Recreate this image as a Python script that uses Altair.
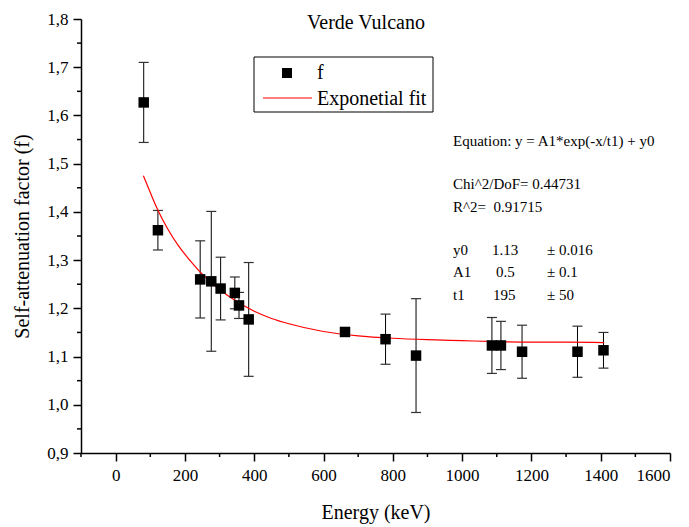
import altair as alt
import pandas as pd

# ---- data ----
energy = [81, 122, 244, 276, 303, 344, 356, 384, 662, 779, 867, 1086, 1112, 1173, 1333, 1408]
f_val = [1.627, 1.362, 1.260, 1.256, 1.241, 1.232, 1.206, 1.177, 1.151, 1.136, 1.102,
         1.123, 1.123, 1.110, 1.110, 1.113]
f_err = [0.083, 0.041, 0.080, 0.145, 0.065, 0.033, 0.027, 0.118, 0.005, 0.052, 0.118,
         0.058, 0.050, 0.055, 0.053, 0.037]

fit_x = [80, 100, 121, 150, 180, 215, 243, 275, 300, 350, 400, 450, 500, 600, 700, 800,
         900, 1000, 1100, 1200, 1300, 1410]
fit_y = [1.475, 1.440, 1.405, 1.365, 1.331, 1.299, 1.276, 1.254, 1.239, 1.214, 1.194,
         1.179, 1.168, 1.152, 1.143, 1.138, 1.135, 1.133, 1.131, 1.130, 1.130, 1.129]

x_major = [0, 200, 400, 600, 800, 1000, 1200, 1400, 1600]
x_minor = [-100, 100, 300, 500, 700, 900, 1100, 1300, 1500]
y_major = [0.9, 1.0, 1.1, 1.2, 1.3, 1.4, 1.5, 1.6, 1.7, 1.8]
y_minor = [0.95, 1.05, 1.15, 1.25, 1.35, 1.45, 1.55, 1.65, 1.75]

title_text = "Verde Vulcano"
x_title = "Energy (keV)"
y_title = "Self-attenuation factor (f)"
legend_labels = ["f", "Exponetial fit"]
eq_lines = ["Equation: y = A1*exp(-x/t1) + y0", "Chi^2/DoF= 0.44731", "R^2=\u00a0 0.91715"]
param_names = ["y0", "A1", "t1"]
param_vals = ["1.13", "0.5", "195"]
param_errs = ["\u00b1 0.016", "\u00b1 0.1", "\u00b1 50"]

FONT = "Liberation Serif, Times New Roman, serif"
W, H = 589, 434

pts = pd.DataFrame({"E": energy, "f": f_val, "err": f_err})
pts["lo"] = pts["f"] - pts["err"]
pts["hi"] = pts["f"] + pts["err"]
fit = pd.DataFrame({"E": fit_x, "f": fit_y})

xscale = alt.Scale(domain=[-100, 1600], nice=False, zero=False)
yscale = alt.Scale(domain=[0.9, 1.8], nice=False, zero=False)

xaxis = alt.Axis(values=x_major, title=x_title, grid=False, tickSize=8, tickWidth=1.5,
                 domainWidth=1.5, domainColor="black", tickColor="black", format="d",
                 labelFont=FONT, labelFontSize=17, labelColor="black", labelPadding=6,
                 titleFont=FONT, titleFontSize=20, titleFontWeight="normal",
                 titleColor="black", titlePadding=19)
yaxis = alt.Axis(values=y_major, title=y_title, grid=False, tickSize=8, tickWidth=1.5,
                 domainWidth=1.5, domainColor="black", tickColor="black",
                 labelFont=FONT, labelFontSize=17, labelColor="black", labelPadding=5,
                 labelExpr="replace(format(datum.value, '.1f'), '.', ',')",
                 titleFont=FONT, titleFontSize=20, titleFontWeight="normal",
                 titleColor="black", titlePadding=14)

base = alt.Chart(pts)

err_rule = base.mark_rule(color="black", strokeWidth=1).encode(
    x=alt.X("E:Q", scale=xscale, axis=xaxis),
    y=alt.Y("lo:Q", scale=yscale, axis=yaxis),
    y2="hi:Q",
)
cap_hi = base.mark_rule(color="#333", strokeWidth=1.2, xOffset=-5, x2Offset=5).encode(
    x="E:Q", x2="E:Q", y="hi:Q")
cap_lo = base.mark_rule(color="#333", strokeWidth=1.2, xOffset=-5, x2Offset=5).encode(
    x="E:Q", x2="E:Q", y="lo:Q")
squares = base.mark_square(size=110, color="black", opacity=1).encode(x="E:Q", y="f:Q")

fit_line = alt.Chart(fit).mark_line(color="#ff0000", strokeWidth=1.2,
                                    interpolate="monotone").encode(x="E:Q", y="f:Q")

xm = alt.Chart(pd.DataFrame({"v": x_minor})).mark_rule(color="black", strokeWidth=1.5).encode(
    x="v:Q", y=alt.value(H), y2=alt.value(H + 4))
ym = alt.Chart(pd.DataFrame({"v": y_minor})).mark_rule(color="black", strokeWidth=1.5).encode(
    y="v:Q", x=alt.value(0), x2=alt.value(-4))

dummy = pd.DataFrame({"a": [0]})


def label(txt, px, py, size=15, align="left"):
    return alt.Chart(dummy).mark_text(font=FONT, fontSize=size, color="black",
                                      align=align, baseline="alphabetic").encode(
        x=alt.value(px), y=alt.value(py), text=alt.value(txt))


layers = [err_rule, cap_hi, cap_lo, fit_line, squares, xm, ym]

layers.append(label(title_text, 285, 10, size=20, align="center"))

# legend box
layers.append(alt.Chart(dummy).mark_rect(fill="white", stroke="black", strokeWidth=1).encode(
    x=alt.value(173), x2=alt.value(352), y=alt.value(38), y2=alt.value(93)))
layers.append(alt.Chart(dummy).mark_square(size=100, color="black", opacity=1).encode(
    x=alt.value(206), y=alt.value(54)))
layers.append(alt.Chart(dummy).mark_rule(color="#ff0000", strokeWidth=1.2).encode(
    x=alt.value(182), x2=alt.value(231), y=alt.value(79)))
layers.append(label(legend_labels[0], 236, 60, size=20))
layers.append(label(legend_labels[1], 236, 86, size=20))

# fit annotation
eq_y = [127, 170, 193]
for t, yy in zip(eq_lines, eq_y):
    layers.append(label(t, 372, yy))
p_y = [236, 258, 281]
p_vx = [411, 415, 412]
for n, v, e, yy, vx in zip(param_names, param_vals, param_errs, p_y, p_vx):
    layers.append(label(n, 372, yy))
    layers.append(label(v, vx, yy))
    layers.append(label(e, 466, yy))

chart = alt.layer(*layers).properties(
    width=W, height=H,
    autosize="none",
    padding={"left": 81, "top": 19, "right": 19, "bottom": 74},
    background="white",
).configure_view(stroke="transparent")

chart.save("out.html", embed_options={"renderer": "svg", "actions": False})
